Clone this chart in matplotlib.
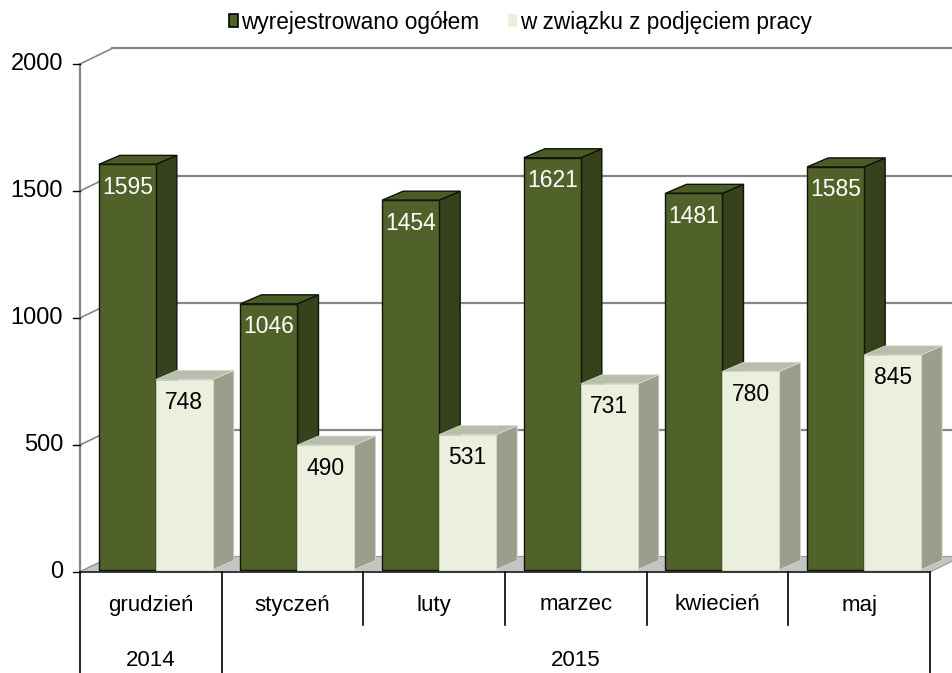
import matplotlib
matplotlib.use("Agg")
import matplotlib.pyplot as plt
from matplotlib.patches import Polygon, Rectangle

plt.rcParams["font.family"] = ["Liberation Sans", "DejaVu Sans"]

# dane
months = ["grudzień", "styczeń", "luty", "marzec", "kwiecień", "maj"]
years = ["2014", "2015"]
year_spans = [1, 5]
total = [1595, 1046, 1454, 1621, 1481, 1585]
work = [748, 490, 531, 731, 780, 845]
series_names = ["wyrejestrowano ogółem", "w związku z podjęciem pracy"]
yticks = [0, 500, 1000, 1500, 2000]

# kolory (front, bok, góra, krawędź, tekst)
dark = ("#50622a", "#35421b", "#4a5b26", "#101408", "white")
light = ("#ebf0de", "#9a9e8b", "#b9bdab", "#d4d8c8", "black")

W, H = 953, 673
fig = plt.figure(figsize=(W / 100, H / 100), dpi=100)
ax = fig.add_axes([0, 0, 1, 1])

# przednia płaszczyzna wykresu w pikselach
x0_px, x1_px = 80, 930
y0_px, ytop_px = 572, 64
n = len(months)
sx = (x1_px - x0_px) / n
sy = (y0_px - ytop_px) / yticks[-1]
xmax = (W - x0_px) / sx
ax.set_xlim(-x0_px / sx, xmax)
ax.set_ylim(-(H - y0_px) / sy, y0_px / sy)
ax.axis("off")


def px(dx, dy):
    """przesunięcie w pikselach -> jednostki danych"""
    return dx / sx, dy / sy


wall_dx, wall_dy = px(32, 15.5)
off_x, off_y = px(5, 2.5)
bar_dx, bar_dy = px(21, 9)
bar_w = 57 / sx
grid_c = "#868686"

# podłoga
ax.add_patch(Polygon([(0, 0), (n, 0), (n + wall_dx, wall_dy), (wall_dx, wall_dy)],
                     closed=True, fc="#c4c4c4", ec="#9a9a9a", lw=0.8, zorder=1))

# siatka na ścianie tylnej i bocznej
for v in yticks:
    if v > 0:
        ax.plot([wall_dx, xmax + 1], [v + wall_dy] * 2, color=grid_c, lw=1.6, zorder=0)
    ax.plot([0, wall_dx], [v, v + wall_dy], color=grid_c if v else "#707070", lw=1.2, zorder=0.5)
    ax.plot([-7 / sx, 0], [v, v], color="black", lw=1.0, zorder=3)
    ax.text(-17 / sx, v, str(v), ha="right", va="center", fontsize=17)
ax.plot([0, 0], [0, yticks[-1]], color=grid_c, lw=1.6, zorder=0.5)


def bar3d(xl, val, col):
    front, side, top, edge, tcol = col
    xb, yb = xl + off_x, off_y
    yt = val + off_y
    lw = 1.0 if edge == dark[3] else 0.6
    ax.add_patch(Polygon([(xb + bar_w, yb), (xb + bar_w + bar_dx, yb + bar_dy),
                          (xb + bar_w + bar_dx, yt + bar_dy), (xb + bar_w, yt)],
                         closed=True, fc=side, ec=edge, lw=lw, zorder=2))
    ax.add_patch(Polygon([(xb, yt), (xb + bar_w, yt), (xb + bar_w + bar_dx, yt + bar_dy),
                          (xb + bar_dx, yt + bar_dy)],
                         closed=True, fc=top, ec=edge, lw=lw, zorder=2))
    ax.add_patch(Rectangle((xb, yb), bar_w, val, fc=front, ec=edge, lw=lw, zorder=2))
    ax.text(xb + bar_w / 2, yt - 23 / sy, str(val), ha="center", va="center",
            color=tcol, fontsize=16.5, zorder=3)


for i in range(n):
    left = i + 0.5 - bar_w
    bar3d(left, total[i], dark)
    bar3d(left + bar_w, work[i], light)

# oś X
ax.plot([0, n], [0, 0], color="#202020", lw=1.2, zorder=3)
ybot = ax.get_ylim()[0]
edges = [0]
for s in year_spans:
    edges.append(edges[-1] + s)
for b in range(n + 1):
    y_end = ybot if b in edges else -53 / sy
    ax.plot([b, b], [0, y_end], color="black", lw=1.2, zorder=3)
for i, m in enumerate(months):
    ax.text(i + 0.5, -33 / sy, m, ha="center", va="center", fontsize=16)
for k, yr in enumerate(years):
    ax.text((edges[k] + edges[k + 1]) / 2, -89 / sy, yr, ha="center", va="center", fontsize=16)

# legenda
handles = [Rectangle((0, 0), 1, 1, fc=dark[0], ec="black", lw=1.2),
           Rectangle((0, 0), 1, 1, fc=light[0], ec="none")]
fig.legend(handles, series_names, loc="center", bbox_to_anchor=(0.546, 1 - 22 / H),
           ncol=2, frameon=False, fontsize=16.3, handlelength=0.4, handleheight=0.5,
           handletextpad=0.15, columnspacing=1.25, borderpad=0)

fig.savefig("out.png", dpi=100)
